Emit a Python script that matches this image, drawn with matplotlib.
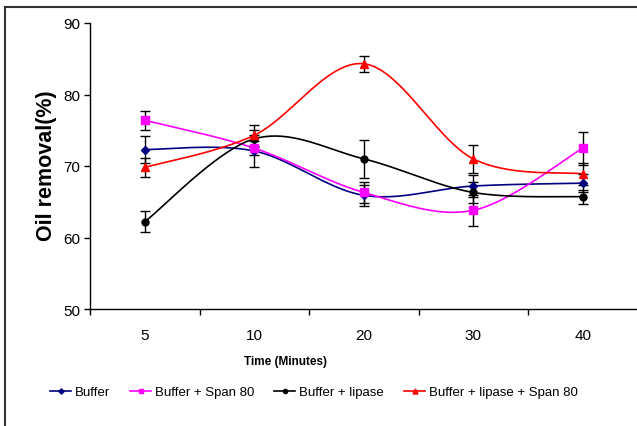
import numpy as np
import matplotlib
matplotlib.use("Agg")
import matplotlib.pyplot as plt
from matplotlib.lines import Line2D

categories = ["5", "10", "20", "30", "40"]
series_names = ["Buffer", "Buffer + Span 80", "Buffer + lipase", "Buffer + lipase + Span 80"]
buffer_vals = [72.3, 72.1, 65.9, 67.2, 67.6]
span_vals = [76.4, 72.5, 66.3, 63.8, 72.5]
lipase_vals = [62.2, 73.8, 71.0, 66.3, 65.7]
lipase_span_vals = [69.8, 74.3, 84.3, 71.0, 68.9]
buffer_err = [1.9, 2.2, 1.5, 1.5, 1.3]
span_err = [1.3, 1.0, 1.5, 2.2, 2.3]
lipase_err = [1.5, 1.2, 2.7, 1.5, 1.0]
lipase_span_err = [1.3, 1.5, 1.1, 2.0, 1.5]
y_ticks = [50, 60, 70, 80, 90]

plt.rcParams['font.family'] = ['Liberation Sans', 'DejaVu Sans']

def smooth(xs, ys, n=40):
    xs = np.asarray(xs, float); ys = np.asarray(ys, float)
    P = np.column_stack([xs, ys])
    out = []
    for i in range(len(P) - 1):
        p0 = P[i - 1] if i > 0 else P[i]
        p1 = P[i]; p2 = P[i + 1]
        p3 = P[i + 2] if i + 2 < len(P) else P[i + 1]
        c1 = p1 + (p2 - p0) / 6.0
        c2 = p2 - (p3 - p1) / 6.0
        t = np.linspace(0, 1, n)[:, None]
        seg = ((1 - t) ** 3) * p1 + 3 * ((1 - t) ** 2) * t * c1 + 3 * (1 - t) * t ** 2 * c2 + t ** 3 * p2
        out.append(seg if i == 0 else seg[1:])
    a = np.vstack(out)
    return a[:, 0], a[:, 1]

W, H = 637, 427
fig = plt.figure(figsize=(W / 100, H / 100), dpi=100)
ax = fig.add_axes([90 / W, 1 - 310 / H, (637.5 - 90) / W, (310 - 24) / H])

x = np.arange(len(categories))
specs = [
    (buffer_vals, buffer_err, '#000080', 'D', 4.5),
    (span_vals, span_err, '#FF00FF', 's', 5.5),
    (lipase_vals, lipase_err, '#000000', 'o', 5),
    (lipase_span_vals, lipase_span_err, '#FF0000', '^', 6),
]
handles = []
for (vals, err, col, mk, ms), name in zip(specs, series_names):
    sx, sy = smooth(x, vals)
    ax.plot(sx, sy, color=col, lw=1.2, zorder=2)
    ax.errorbar(x, vals, yerr=err, fmt='none', ecolor='black', elinewidth=1.0,
                capsize=3.5, capthick=1.0, zorder=3)
    ax.plot(x, vals, linestyle='none', marker=mk, color=col, ms=ms, zorder=4)
    handles.append(Line2D([], [], color=col, lw=1.2, marker=mk, ms=ms * 0.6))

ax.set_xlim(-0.5, len(categories) - 0.5)
ax.set_ylim(50, 90)
ax.set_yticks(y_ticks)
ax.set_yticklabels([str(v) for v in y_ticks], fontsize=11)
ax.set_xticks(x)
ax.set_xticklabels(categories, fontsize=11)
ax.set_xticks(np.arange(len(categories) + 1) - 0.5, minor=True)
ax.tick_params(axis='x', which='major', length=0, pad=14)
ax.tick_params(axis='x', which='minor', length=4, width=1, direction='out')
ax.tick_params(axis='y', length=4, width=1, direction='out', pad=3)
for s in ['top', 'right']:
    ax.spines[s].set_visible(False)
for s in ['left', 'bottom']:
    ax.spines[s].set_linewidth(1.0)

fig.text(286 / W, 1 - 362 / H, "Time (Minutes)", fontsize=8.5, fontweight='bold',
         ha='center', va='center')
fig.text(47 / W, 1 - 166 / H, "Oil removal(%)", rotation=90, fontsize=15.5,
         fontweight='bold', ha='center', va='center')

fig.legend(handles, series_names, loc='center left', bbox_to_anchor=(50 / W, 1 - 393 / H),
           ncol=4, frameon=False, fontsize=9.5, handlelength=1.6, handletextpad=0.3,
           columnspacing=1.5, borderpad=0, borderaxespad=0)

# outer frame
fig.add_artist(Line2D([5 / W, 5 / W], [-0.01, 1 - 8 / H], color='#333333', lw=1.5,
                      transform=fig.transFigure))
fig.add_artist(Line2D([5 / W, 1.01], [1 - 8 / H, 1 - 8 / H], color='#333333', lw=1.5,
                      transform=fig.transFigure))

fig.savefig("out.png", dpi=100)
